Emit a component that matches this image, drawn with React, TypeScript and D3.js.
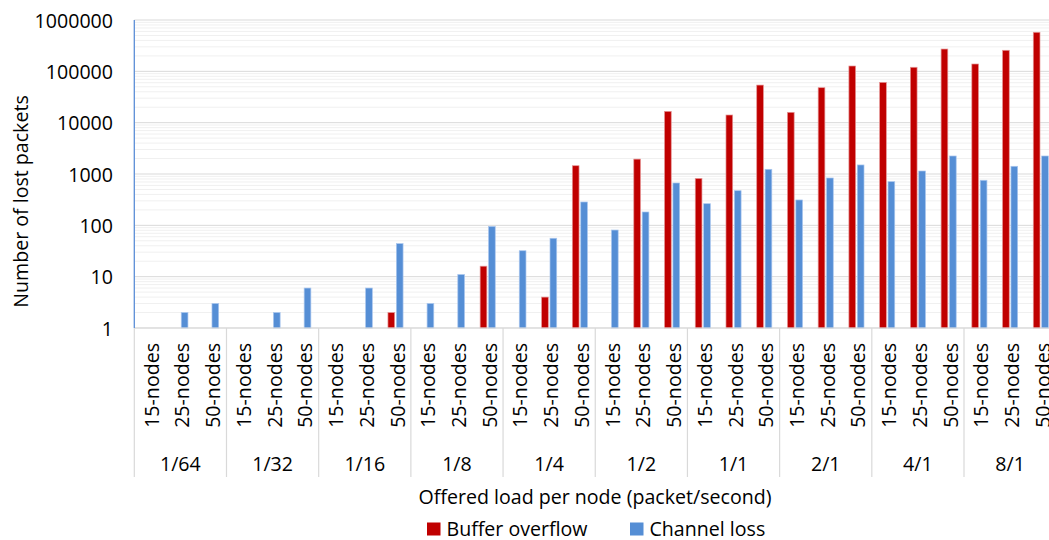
import React from "react";
import * as d3 from "d3";

const groups = ["1/64", "1/32", "1/16", "1/8", "1/4", "1/2", "1/1", "2/1", "4/1", "8/1"];
const nodeSizes = ["15-nodes", "25-nodes", "50-nodes"];
// values per category (group-major, 15/25/50 nodes); null = no loss
const bufferOverflow: (number | null)[] = [
  null, null, null,
  null, null, null,
  null, null, 2,
  null, null, 16,
  null, 4, 1450,
  null, 1950, 16600,
  820, 14100, 54000,
  15900, 48000, 127000,
  61000, 120000, 272000,
  139000, 257000, 576000,
];
const channelLoss: (number | null)[] = [
  null, 2, 3,
  null, 2, 6,
  null, 6, 44,
  3, 11, 95,
  32, 56, 285,
  81, 182, 668,
  264, 473, 1234,
  312, 836, 1500,
  709, 1144, 2243,
  754, 1413, 2243,
];
const yTicks = [1, 10, 100, 1000, 10000, 100000, 1000000];
const seriesNames = ["Buffer overflow", "Channel loss"];
const colors = ["#C00000", "#558ED5"];
const strokeColors = ["#E59595", "#A9C6EE"];

const W = 1049;
const H = 540;
const FONT = "'Open Sans', 'DejaVu Sans', sans-serif";
const FS = 19.6;

export default function App() {
  const left = 134.3;
  const catW = 30.73;
  const cats = groups.flatMap((g) => nodeSizes.map((n) => `${g}|${n}`));
  const x = d3.scaleBand<string>().domain(cats).range([left, left + catW * cats.length]).padding(0);
  const y = d3.scaleLog().domain([1, 1e6]).range([328, 20]);
  const bottom = y(1);
  const right = left + catW * cats.length;
  const barW = 6.7;
  const gap = 0.85;

  const minor: number[] = [];
  for (let d = 1; d < 1e6; d *= 10) for (let k = 2; k <= 9; k++) minor.push(d * k);

  const groupW = catW * 3;

  return (
    <svg width={W} height={H} style={{ position: "absolute", left: 0, top: 0, background: "#fff" }} fontFamily={FONT}>
      {/* minor grid */}
      {minor.map((v) => (
        <line key={"m" + v} x1={left} x2={right} y1={y(v)} y2={y(v)} stroke="#F0F0F0" strokeWidth={1} />
      ))}
      {yTicks.map((v) => (
        <line key={"g" + v} x1={left} x2={right} y1={y(v)} y2={y(v)} stroke="#D9D9D9" strokeWidth={1} />
      ))}
      {/* bars */}
      {cats.map((c, i) => {
        const cx = (x(c) as number) + x.bandwidth() / 2;
        const b = bufferOverflow[i];
        const ch = channelLoss[i];
        return (
          <g key={c}>
            {b != null && (
              <rect x={cx - gap - barW} y={y(b)} width={barW} height={bottom - y(b)} fill={colors[0]} stroke={strokeColors[0]} strokeWidth={0.7} />
            )}
            {ch != null && (
              <rect x={cx + gap} y={y(ch)} width={barW} height={bottom - y(ch)} fill={colors[1]} stroke={strokeColors[1]} strokeWidth={0.7} />
            )}
          </g>
        );
      })}
      {/* axes */}
      <line x1={left} x2={right} y1={bottom} y2={bottom} stroke="#D9D9D9" strokeWidth={1} />
      <line x1={left} x2={left} y1={20} y2={bottom} stroke="#5B8ED6" strokeWidth={1.3} />
      {groups.map((g) => {
        const x0 = x(`${g}|${nodeSizes[0]}`) as number;
        return (
          <g key={g}>
            <line x1={x0} x2={x0} y1={bottom} y2={477} stroke="#D9D9D9" strokeWidth={1.2} />
            <text x={x0 + groupW / 2} y={463} textAnchor="middle" dominantBaseline="central" fontSize={FS} fill="#000">
              {g}
            </text>
          </g>
        );
      })}
      <line x1={right} x2={right} y1={bottom} y2={477} stroke="#D9D9D9" strokeWidth={1.2} />
      {cats.map((c) => {
        const cx = (x(c) as number) + x.bandwidth() / 2 + 1.5;
        return (
          <text key={"l" + c} transform={`translate(${cx},343) rotate(-90)`} textAnchor="end" dominantBaseline="central" fontSize={FS} fill="#000">
            {c.split("|")[1]}
          </text>
        );
      })}
      {yTicks.map((v) => (
        <text key={"t" + v} x={113} y={y(v)} textAnchor="end" dominantBaseline="central" fontSize={FS} fill="#000">
          {String(v)}
        </text>
      ))}
      <text transform={`translate(20,201.5) rotate(-90)`} textAnchor="middle" dominantBaseline="central" fontSize={FS} fill="#000">
        Number of lost packets
      </text>
      <text x={595} y={496} textAnchor="middle" dominantBaseline="central" fontSize={FS} fill="#000">
        Offered load per node (packet/second)
      </text>
      {/* legend */}
      {seriesNames.map((s, i) => {
        const lx = i === 0 ? 427 : 630;
        return (
          <g key={s}>
            <rect x={lx} y={522.5} width={13.5} height={13} fill={colors[i]} />
            <text x={lx + 19.5} y={528} dominantBaseline="central" fontSize={FS} fill="#000">
              {s}
            </text>
          </g>
        );
      })}
    </svg>
  );
}
